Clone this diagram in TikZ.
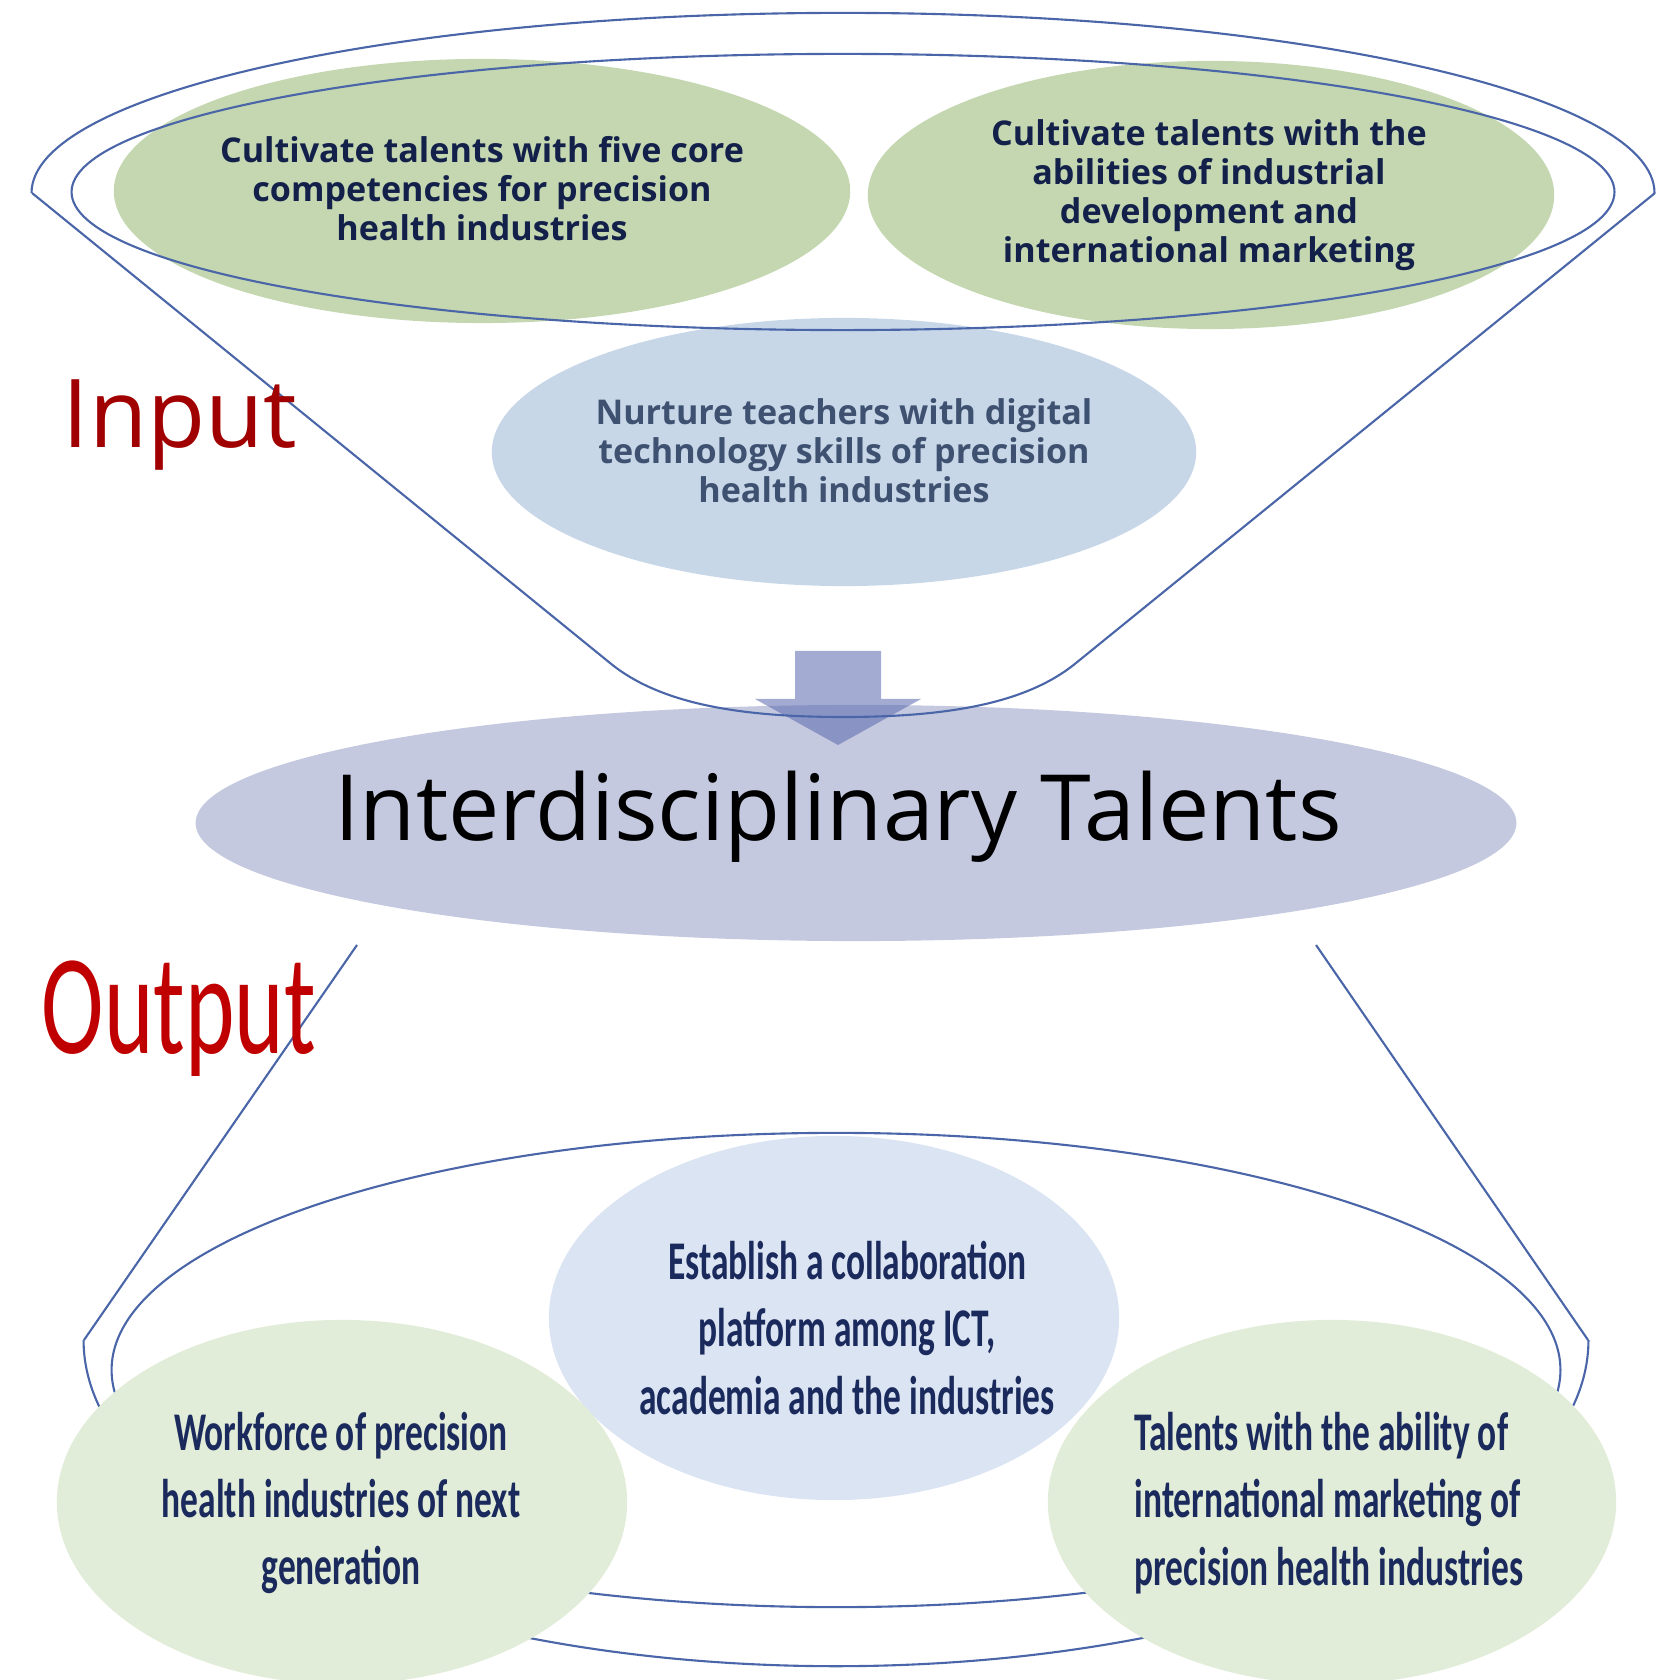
\documentclass[tikz,border=0pt]{standalone}
\usepackage{fontspec}
\setmainfont{Open Sans}
\newfontfamily\narrowfont[FakeStretch=0.65]{Carlito}
\newfontfamily\outfont[FakeStretch=0.66]{Carlito}
\usetikzlibrary{shapes.geometric}

\definecolor{topgreen}{HTML}{C4D7B0}
\definecolor{topblue}{HTML}{C8D7E8}
\definecolor{lavender}{HTML}{C5C9E0}
\definecolor{lowblue}{HTML}{DBE4F2}
\definecolor{lowgreen}{HTML}{E2EDD9}
\definecolor{funnelblue}{HTML}{4A66A8}
\definecolor{arrowblue}{HTML}{5E6CAF}
\definecolor{darknavy}{HTML}{13204A}
\definecolor{slatenavy}{HTML}{3E5170}
\definecolor{textnavy}{HTML}{1B2A5C}
\definecolor{inred}{HTML}{A00000}
\definecolor{outred}{HTML}{C00000}

\begin{document}
\begin{tikzpicture}[x=0.01cm, y=-0.01cm,
    blob/.style={ellipse, draw=none, inner sep=0pt},
    funnel/.style={draw=funnelblue, line width=0.6pt},
    toptext/.style={font=\fontsize{9.7}{11.1}\selectfont\bfseries, align=center},
    lowtext/.style={font=\narrowfont\fontsize{15.5}{19.1}\selectfont\bfseries, text=textnavy}]
    \useasboundingbox (0,0) rectangle (1679,1680);

    % input ellipses
    \node[blob, fill=topgreen, minimum width=7.36cm, minimum height=2.64cm] (core) at (482,191) {};
    \node[blob, fill=topgreen, minimum width=6.86cm, minimum height=2.68cm] (market) at (1211,195) {};
    \node[blob, fill=topblue, minimum width=7.04cm, minimum height=2.68cm] (teach) at (844,452) {};

    \node[toptext, text=darknavy] (core-txt) at (482,189) {Cultivate talents with five core\\competencies for precision\\health industries};
    \node[toptext, text=darknavy] (market-txt) at (1209,195) {Cultivate talents with the\\abilities of industrial\\development and\\international marketing};
    \node[toptext, text=slatenavy] (teach-txt) at (844,451) {Nurture teachers with digital\\technology skills of precision\\health industries};

    % middle ellipse
    \node[blob, fill=lavender, minimum width=13.2cm, minimum height=2.36cm] (talent) at (856,823) {};
    \node[font=\fontsize{26}{31}\selectfont] (talent-txt) at (838,817) {Interdisciplinary Talents};

    % down arrow
    \fill[arrowblue, fill opacity=0.57] (795,651) -- (881,651) -- (881,699) -- (921,699)
        -- (838,745) -- (755,699) -- (795,699) -- cycle;

    % top funnel
    \begin{scope}
        \clip (0,0) rectangle (1679,193);
        \draw[funnel] (843,193) ellipse [x radius=8.11cm, y radius=1.80cm];
    \end{scope}
    \draw[funnel] (32,193) -- (610,663) .. controls (660,704) and (740,717) .. (843,717)
        .. controls (946,717) and (1026,704) .. (1076,663) -- (1655,193);
    \draw[funnel] (843,192) ellipse [x radius=7.71cm, y radius=1.38cm];

    % bottom funnel
    \draw[funnel] (357,945) -- (84,1340);
    \draw[funnel] (1316,945) -- (1588,1340);
    \begin{scope}
        \clip (0,1340) rectangle (1679,1680);
        \draw[funnel] (836,1340) ellipse [x radius=7.52cm, y radius=3.26cm];
    \end{scope}
    \draw[funnel] (836,1370) ellipse [x radius=7.24cm, y radius=2.37cm];

    % output ellipses
    \node[blob, fill=lowblue, minimum width=5.70cm, minimum height=3.64cm] (platform) at (834,1318) {};
    \node[blob, fill=lowgreen, minimum width=5.70cm, minimum height=3.64cm] (workforce) at (342,1502) {};
    \node[blob, fill=lowgreen, minimum width=5.68cm, minimum height=3.64cm] (ability) at (1332,1502) {};

    \node[lowtext, align=center] (platform-txt) at (847,1328) {Establish a collaboration\\platform among ICT,\\academia and the industries};
    \node[lowtext, align=center] (workforce-txt) at (341,1503) {Workforce of precision\\health industries of next\\generation};
    \node[lowtext, align=left] (ability-txt) at (1329,1503) {Talents with the ability of\\international marketing of\\precision health industries};

    % side labels
    \node[anchor=base west, inner sep=0pt, text=inred, font=\fontsize{27}{32}\selectfont] (input) at (62,448) {Input};
    \node[anchor=base west, inner sep=0pt, text=outred, font=\outfont\fontsize{40.6}{48}\selectfont] (output) at (41,1053) {Output};
\end{tikzpicture}
\end{document}
